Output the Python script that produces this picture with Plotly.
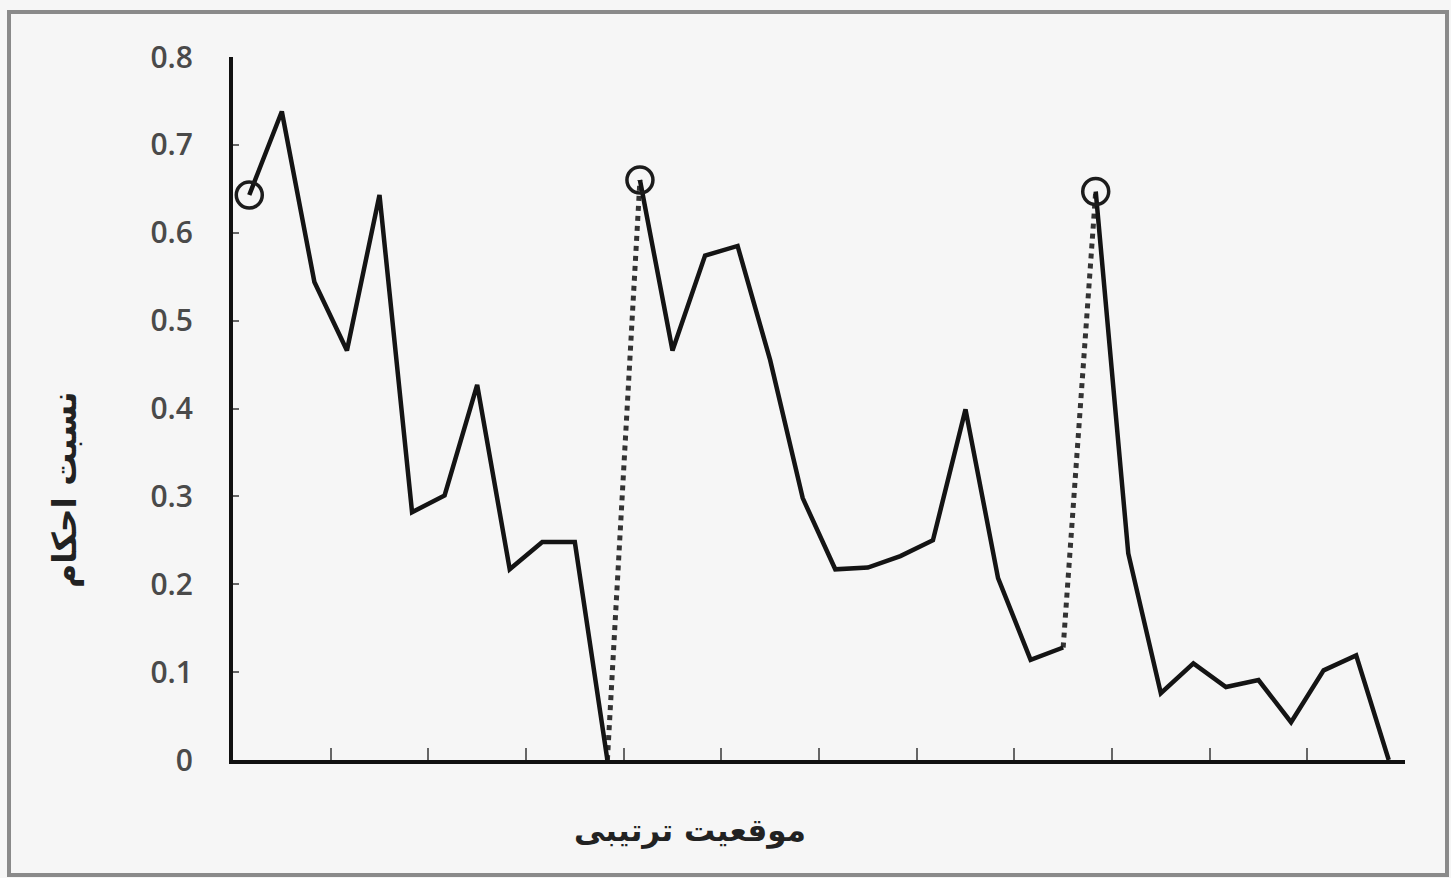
import plotly.graph_objects as go

# ---- data ----
positions = list(range(1, 37))          # ordinal positions along the x axis

seg1_vals = [0.643, 0.738, 0.544, 0.466, 0.643, 0.282, 0.301, 0.427, 0.217, 0.248, 0.248, 0.0]
seg2_vals = [0.660, 0.466, 0.574, 0.585, 0.455, 0.298, 0.217, 0.219, 0.232, 0.250, 0.399, 0.207, 0.114, 0.128]
seg3_vals = [0.647, 0.235, 0.076, 0.110, 0.083, 0.091, 0.043, 0.102, 0.119, 0.0]

y_tick_vals = [0, 0.1, 0.2, 0.3, 0.4, 0.5, 0.6, 0.7, 0.8]
y_tick_text = ["0", "0.1", "0.2", "0.3", "0.4", "0.5", "0.6", "0.7", "0.8"]

x_title = "موقعیت ترتیبی"
y_title = "نسبت احکام"

# split positions into the three segments
n1, n2 = len(seg1_vals), len(seg2_vals)
seg1_pos = positions[:n1]
seg2_pos = positions[n1:n1 + n2]
seg3_pos = positions[n1 + n2:n1 + n2 + len(seg3_vals)]

LINE = "#141414"
fig = go.Figure()

# dotted connectors between segments
for (xa, ya), (xb, yb) in [((seg1_pos[-1], seg1_vals[-1]), (seg2_pos[0], seg2_vals[0])),
                           ((seg2_pos[-1], seg2_vals[-1]), (seg3_pos[0], seg3_vals[0]))]:
    fig.add_trace(go.Scatter(x=[xa, xb], y=[ya, yb], mode="lines",
                             line=dict(color="#333333", width=5, dash="dot"),
                             showlegend=False, hoverinfo="skip"))

# solid segments
for px, py in [(seg1_pos, seg1_vals), (seg2_pos, seg2_vals), (seg3_pos, seg3_vals)]:
    fig.add_trace(go.Scatter(x=px, y=py, mode="lines",
                             line=dict(color=LINE, width=4.5),
                             showlegend=False))

# open circles at the start of each segment
fig.add_trace(go.Scatter(x=[seg1_pos[0], seg2_pos[0], seg3_pos[0]],
                         y=[seg1_vals[0], seg2_vals[0], seg3_vals[0]],
                         mode="markers",
                         marker=dict(symbol="circle-open", size=26, color="#1c1c1c",
                                     line=dict(width=3.5, color="#1c1c1c")),
                         showlegend=False))

# plot-area geometry used for paper-coordinate placement
W, H = 1451, 878
L, R, T, B = 233, 46, 57, 118
pw, ph = W - L - R, H - T - B

def px_to_paper_x(x):
    return (x - L) / pw

def px_to_paper_y(y):
    return (H - B - y) / ph

BG = "#f6f6f6"
fig.update_layout(
    width=W, height=H,
    margin=dict(l=L, r=R, t=T, b=B, pad=0),
    paper_bgcolor=BG, plot_bgcolor=BG,
    showlegend=False,
    xaxis=dict(range=[0.5, 36.5], showgrid=False, zeroline=False,
               showline=True, linecolor="#111", linewidth=4,
               ticks="inside", tick0=0.5, dtick=3, ticklen=12, tickwidth=2,
               tickcolor="#666", showticklabels=False),
    yaxis=dict(range=[0, 0.8], showgrid=False, zeroline=False,
               showline=True, linecolor="#111", linewidth=4,
               ticks="inside", ticklen=6, tickwidth=2, tickcolor="#666",
               tickvals=y_tick_vals, ticktext=y_tick_text,
               tickfont=dict(family="Open Sans", size=30, color="#4a4a4a", weight=600),
               ticklabelstandoff=30),
    shapes=[dict(type="rect", xref="paper", yref="paper",
                 x0=px_to_paper_x(9), x1=px_to_paper_x(1447),
                 y0=px_to_paper_y(875), y1=px_to_paper_y(12),
                 line=dict(color="#8a8a8a", width=4), fillcolor="rgba(0,0,0,0)",
                 layer="below")],
    annotations=[
        dict(text=x_title, xref="paper", yref="paper",
             x=px_to_paper_x(690), y=px_to_paper_y(830),
             showarrow=False, font=dict(family="DejaVu Sans", size=31, color="#222", weight="bold"),
             xanchor="center", yanchor="middle"),
        dict(text=y_title, xref="paper", yref="paper",
             x=px_to_paper_x(64), y=px_to_paper_y(490), textangle=-90,
             showarrow=False, font=dict(family="DejaVu Sans", size=33, color="#222", weight="bold"),
             xanchor="center", yanchor="middle"),
    ],
)

fig.write_html("out.html")
